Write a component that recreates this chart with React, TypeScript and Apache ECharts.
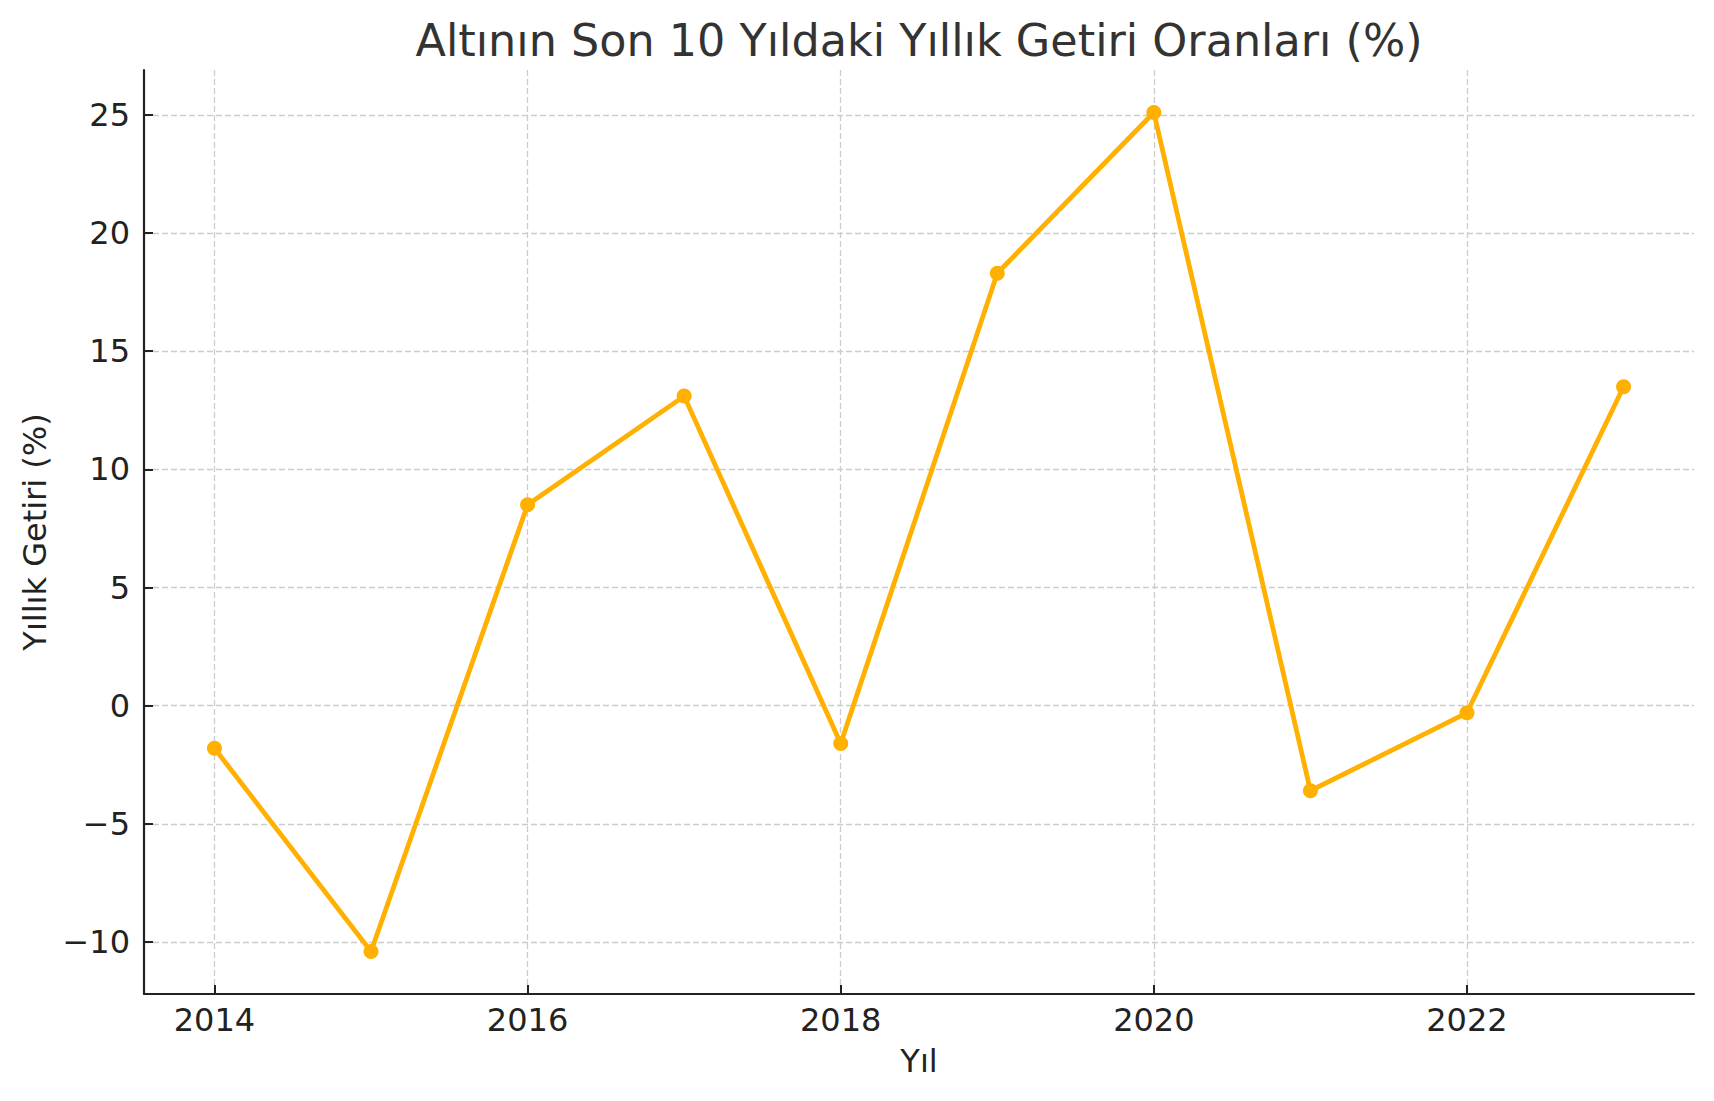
import React, { useEffect, useRef } from "react";
import * as echarts from "echarts";

const years = [2014, 2015, 2016, 2017, 2018, 2019, 2020, 2021, 2022, 2023];
const returns = [-1.8, -10.4, 8.5, 13.1, -1.6, 18.3, 25.1, -3.6, -0.3, 13.5];
const xTicks = [2014, 2016, 2018, 2020, 2022];
const yTicks = [-10, -5, 0, 5, 10, 15, 20, 25];

const titleText = "Altının Son 10 Yıldaki Yıllık Getiri Oranları (%)";
const xName = "Yıl";
const yName = "Yıllık Getiri (%)";

const FONT = "DejaVu Sans";

export default function App() {
  const ref = useRef<HTMLDivElement>(null);
  useEffect(() => {
    if (!ref.current) return;
    const chart = echarts.init(ref.current, null, { renderer: "svg" });
    const lineColor = "#FFB000";
    chart.setOption({
      animation: false,
      backgroundColor: "#ffffff",
      title: {
        text: titleText,
        left: 914,
        top: 13,
        textAlign: "center",
        textStyle: { fontFamily: FONT, fontSize: 44.5, fontWeight: "normal", color: "#333333" },
      },
      grid: { left: 144, right: 20, top: 70, bottom: 107, containLabel: false, outerBoundsMode: "none" },
      xAxis: {
        type: "value",
        min: 2013.55,
        max: 2023.45,
        name: xName,
        nameLocation: "middle",
        nameGap: 51,
        nameTextStyle: { fontFamily: FONT, fontSize: 32, color: "#222222" },
        axisLine: { show: true, onZero: false, lineStyle: { color: "#222222", width: 2.2 } },
        axisTick: { show: true, inside: true, length: 9, customValues: xTicks, lineStyle: { color: "#222222", width: 2 } },
        axisLabel: {
          customValues: xTicks,
          margin: 10,
          fontFamily: FONT,
          fontSize: 32,
          color: "#222222",
          formatter: (v: number) => String(Math.round(v)),
        },
        splitLine: { show: true, lineStyle: { color: "#cccccc", width: 1.3, type: [6, 3] } },
      },
      yAxis: {
        type: "value",
        min: -12.2,
        max: 26.9,
        name: yName,
        nameLocation: "middle",
        nameGap: 93,
        nameRotate: 90,
        nameTextStyle: { fontFamily: FONT, fontSize: 32, color: "#222222" },
        axisLine: { show: true, onZero: false, lineStyle: { color: "#222222", width: 2.2 } },
        axisTick: { show: true, inside: true, length: 9, customValues: yTicks, lineStyle: { color: "#222222", width: 2 } },
        axisLabel: {
          customValues: yTicks,
          margin: 14,
          fontFamily: FONT,
          fontSize: 32,
          color: "#222222",
          formatter: (v: number) => (v < 0 ? "\u2212" + Math.abs(v) : String(v)),
        },
        splitLine: { show: true, lineStyle: { color: "#cccccc", width: 1.3, type: [6, 3] } },
      },
      series: [
        {
          type: "line",
          data: years.map((y, i) => [y, returns[i]]),
          symbol: "circle",
          symbolSize: 15,
          lineStyle: { color: lineColor, width: 4.8 },
          itemStyle: { color: lineColor },
          z: 5,
        },
      ],
    });
    return () => chart.dispose();
  }, []);
  return (
    <div
      ref={ref}
      style={{ position: "fixed", left: 0, top: 0, width: 1714, height: 1101, background: "#fff" }}
    />
  );
}
